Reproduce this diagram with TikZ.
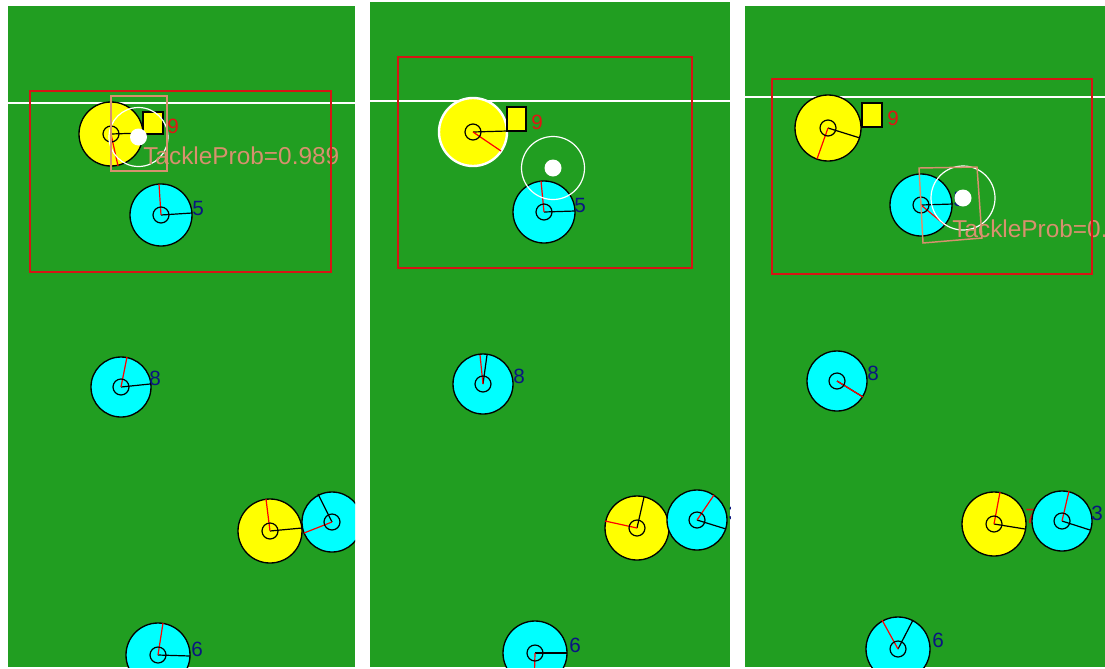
\documentclass[tikz,border=0pt]{standalone}
\usepackage{fontspec}
\setmainfont{Liberation Sans}
\definecolor{field}{RGB}{33,158,33}
\definecolor{rrect}{RGB}{215,20,20}
\definecolor{salmon}{RGB}{215,145,110}
\definecolor{navylbl}{RGB}{10,20,130}
\definecolor{redlbl}{RGB}{225,20,20}
\definecolor{pcyan}{RGB}{0,255,255}
\definecolor{pyellow}{RGB}{255,255,0}
\definecolor{pred}{RGB}{255,0,0}
\tikzset{
  cyanp/.style={fill=pcyan, draw=black, line width=1pt},
  yellowp/.style={fill=pyellow, draw=black, line width=1pt},
  yellowsel/.style={fill=pyellow, draw=white, line width=1.8pt},
  blk/.style={draw=black, line width=0.9pt},
  rd/.style={draw=pred, line width=0.9pt},
  innerc/.style={draw=black, line width=0.9pt},
  touch/.style={draw=white, line width=1.5pt},
  zone/.style={draw=rrect, line width=1.5pt},
  ballc/.style={fill=white},
  ballring/.style={draw=white, line width=0.9pt},
  tbox/.style={draw=salmon, line width=1.1pt},
  tprob/.style={text=salmon, font=\fontsize{18.3}{20}\selectfont, anchor=west, inner sep=0pt},
  bluelbl/.style={text=navylbl, font=\fontsize{15.5}{16}\selectfont, inner sep=0pt},
  redl/.style={text=redlbl, font=\fontsize{15.5}{16}\selectfont, inner sep=0pt},
  sq/.style={fill=pyellow, draw=black, line width=1pt}
}
% #1 centre, #2 radius, #3 style, #4 black end, #5 red end
\newcommand\plr[5]{%
  \draw[#3] #1 circle[radius=#2];
  \draw[blk] #1 -- #4;
  \draw[rd] #1 -- #5;
  \draw[innerc] #1 circle[radius=8];
}
\begin{document}
\begin{tikzpicture}[x=0.75pt,y=-0.75pt]
\useasboundingbox[fill=white] (0,0) rectangle (1105,668);

% ---------------- panel 1 ----------------
\begin{scope}
\clip (8,6) rectangle (355,667);
\fill[field] (8,6) rectangle (355,667);
\draw[touch] (8,102.5) -- (355,102.5);
\plr{(111,134)}{32}{yellowp}{(143,133)}{(118,166)}
\draw[sq] (143,112) rectangle (163,134);
\node[redl] (p1n9) at (173,126) {9};
\plr{(161,215)}{31}{cyanp}{(192,213)}{(159,184)}
\node[bluelbl] (p1n5) at (198,208) {5};
\plr{(121,387)}{30}{cyanp}{(150,384)}{(127,357)}
\node[bluelbl] (p1n8) at (155,378) {8};
\plr{(270,531)}{32}{yellowp}{(302,528)}{(266,499)}
\node[redl] (p1n7) at (307,524) {7};
\plr{(332,522)}{30}{cyanp}{(318,494)}{(304,533)}
\node[bluelbl] (p1n3) at (369,514) {3};
\plr{(158,655)}{32}{cyanp}{(190,656)}{(163,623)}
\node[bluelbl] (p1n6) at (197,649) {6};
\fill[ballc] (138.5,137) circle[radius=8.5];
\draw[ballring] (138.5,137) circle[radius=29.5];
\draw[tbox] (111,96) rectangle (167,171);
\node[tprob] (p1t) at (143,156) {TackleProb=0.989};
\draw[zone] (30,91) rectangle (331,272);
\end{scope}

% ---------------- panel 2 ----------------
\begin{scope}
\clip (370,2) rectangle (730,667);
\fill[field] (370,2) rectangle (730,667);
\draw[touch] (370,101) -- (730,101);
\plr{(473,132)}{34}{yellowsel}{(507,131)}{(501,151)}
\draw[sq] (507,107) rectangle (526,131);
\node[redl] (p2n9) at (537,122) {9};
\plr{(544,212)}{31}{cyanp}{(575,211)}{(541,181)}
\node[bluelbl] (p2n5) at (580,205) {5};
\plr{(483,384)}{30}{cyanp}{(487,355)}{(480,355)}
\node[bluelbl] (p2n8) at (519,376) {8};
\plr{(637,528)}{32}{yellowp}{(644,497)}{(605,521)}
\node[redl] (p2n7) at (674,521) {7};
\plr{(697,520)}{30}{cyanp}{(726,529)}{(714,495)}
\node[bluelbl] (p2n3) at (734,513) {3};
\plr{(535,653)}{32}{cyanp}{(567,653)}{(534,690)}
\node[bluelbl] (p2n6) at (575,645) {6};
\fill[ballc] (553,168) circle[radius=8.5];
\draw[ballring] (553,168) circle[radius=31.5];
\draw[zone] (398,57) rectangle (692,268);
\end{scope}

% ---------------- panel 3 ----------------
\begin{scope}
\clip (745,6) rectangle (1105,667);
\fill[field] (745,6) rectangle (1105,667);
\draw[touch] (745,97) -- (1105,97);
\plr{(828,128)}{33}{yellowp}{(860,138)}{(817,159)}
\draw[sq] (862,103) rectangle (882,127);
\node[redl] (p3n9) at (893,118) {9};
\plr{(921,205)}{31}{cyanp}{(953,204)}{(945,225)}
\node[bluelbl] (p3n5) at (959,199) {5};
\plr{(837,381)}{30}{cyanp}{(863,397)}{(863,397)}
\node[bluelbl] (p3n8) at (873,373) {8};
\plr{(994,524)}{32}{yellowp}{(1025,529)}{(1000,492)}
\node[redl] (p3n7) at (1031,516) {7};
\plr{(1062,521)}{30}{cyanp}{(1090,530)}{(1069,491)}
\node[bluelbl] (p3n3) at (1097,513) {3};
\plr{(898,649)}{32}{cyanp}{(913,620)}{(882,620)}
\node[bluelbl] (p3n6) at (938,640) {6};
\fill[ballc] (963,198) circle[radius=8.5];
\draw[ballring] (963,198) circle[radius=32];
\draw[tbox] (919,168) -- (977,167) -- (982,238) -- (923,243) -- cycle;
\node[tprob] (p3t) at (952,229) {TackleProb=0.989};
\draw[zone] (772,79) rectangle (1092,274);
\end{scope}
\end{tikzpicture}
\end{document}
